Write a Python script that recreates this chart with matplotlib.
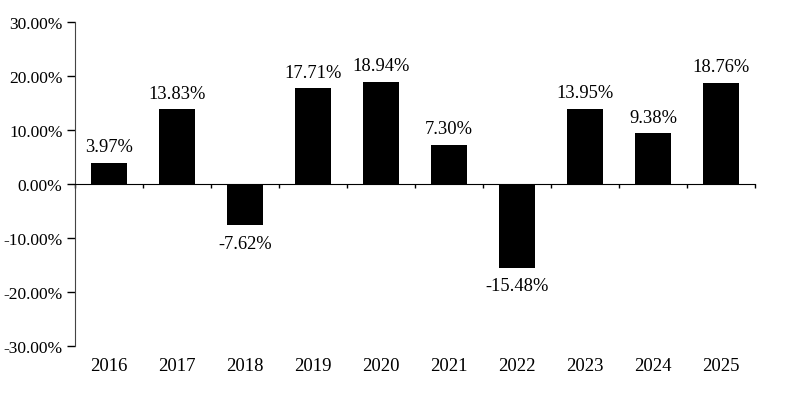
import matplotlib
matplotlib.use("Agg")
import matplotlib.pyplot as plt
import matplotlib.transforms as mtransforms
from matplotlib.ticker import FixedLocator, PercentFormatter

years = ["2016", "2017", "2018", "2019", "2020", "2021", "2022", "2023", "2024", "2025"]
returns = [3.97, 13.83, -7.62, 17.71, 18.94, 7.30, -15.48, 13.95, 9.38, 18.76]
yticks = [-30, -20, -10, 0, 10, 20, 30]

plt.rcParams['font.family'] = ['Liberation Serif', 'DejaVu Serif']
plt.rcParams['axes.unicode_minus'] = False

fig = plt.figure(figsize=(7.86, 4.06), dpi=100)
ax = fig.add_axes([75/786, 1 - 347/406, (755-75)/786, (347-23)/406])

x = list(range(len(years)))
ax.bar(x, returns, width=0.52, color='black', zorder=3)

ax.set_xlim(-0.5, len(years) - 0.5)
ax.set_ylim(-30, 30)
ax.set_yticks(yticks)
ax.yaxis.set_major_formatter(PercentFormatter(decimals=2))
ax.tick_params(axis='y', length=6, width=1, pad=3, labelsize=12.5, direction='out', colors='black')

ax.spines['top'].set_visible(False)
ax.spines['right'].set_visible(False)
ax.spines['bottom'].set_position(('data', 0))
ax.spines['left'].set_color('#444444')
ax.xaxis.set_major_locator(FixedLocator([i + 0.5 for i in range(-1, len(years))]))
ax.tick_params(axis='x', length=3, width=1, direction='out', labelbottom=False)

trans = mtransforms.blended_transform_factory(ax.transData, ax.transAxes)
for xi, yr in zip(x, years):
    ax.annotate(yr, xy=(xi, 0), xycoords=trans, xytext=(0, -14), textcoords='offset points',
                ha='center', va='center', fontsize=13.5)

for xi, v in zip(x, returns):
    if v >= 0:
        ax.annotate(f"{v:.2f}%", xy=(xi, v), xytext=(0, 5.5), textcoords='offset points',
                    ha='center', va='bottom', fontsize=13.3)
    else:
        ax.annotate(f"{v:.2f}%", xy=(xi, v), xytext=(0, -7), textcoords='offset points',
                    ha='center', va='top', fontsize=13.3)

fig.savefig("out.png", dpi=100)
